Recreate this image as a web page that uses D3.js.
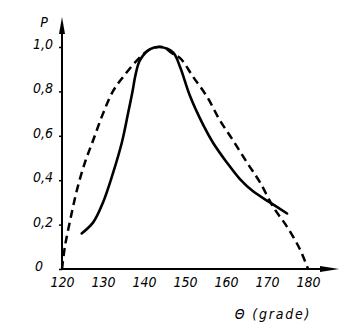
<!DOCTYPE html>
<html>
<head>
<meta charset="utf-8">
<script src="https://cdn.jsdelivr.net/npm/d3@7"></script>
<style>
  html, body { margin: 0; padding: 0; background: #fff; }
  svg { display: block; }
  text { font-family: "Liberation Sans Narrow", "DejaVu Sans Condensed", "Liberation Sans", sans-serif; font-style: italic; fill: #000; }
</style>
</head>
<body>
<svg id="chart" width="358" height="335"></svg>
<script>
// ---- data ----
const xTicks = [120, 130, 140, 150, 160, 170, 180];
const yTicks = [0, 0.2, 0.4, 0.6, 0.8, 1.0];
const yTickLabels = ["0", "0,2", "0,4", "0,6", "0,8", "1,0"];
const yAxisTitle = "P";
const xAxisTitle = "\u0398  (grade)";

const solidTheta = [124.8, 127.6, 130.0, 132.4, 134.6, 136.1, 137.1, 138.0, 139.0, 141.5, 143.9, 147.1, 148.8, 151.2, 154.4, 156.8, 160.2, 163.4, 166.6, 170.7, 174.9];
const solidP     = [0.16, 0.21, 0.30, 0.43, 0.57, 0.70, 0.79, 0.88, 0.94, 0.99, 1.00, 0.975, 0.91, 0.78, 0.65, 0.57, 0.48, 0.405, 0.35, 0.30, 0.25];

const dashedTheta = [120.0, 120.7, 122.0, 123.7, 125.6, 127.6, 130.0, 132.4, 134.9, 138.3, 141.5, 144.5, 147.0, 148.8, 152.0, 155.4, 158.5, 161.7, 165.1, 168.3, 171.5, 174.9, 178.0, 180.0];
const dashedP     = [0.0, 0.10, 0.22, 0.36, 0.48, 0.58, 0.70, 0.80, 0.865, 0.94, 0.99, 1.00, 0.97, 0.95, 0.865, 0.775, 0.67, 0.58, 0.48, 0.39, 0.28, 0.19, 0.09, 0.0];

// ---- layout ----
const svg = d3.select("#chart");
const x = d3.scaleLinear().domain([120, 180]).range([62, 308]);
const y = d3.scaleLinear().domain([0, 1]).range([269, 47]);
const x0 = x(120), y0 = y(0);

// axes lines with arrowheads
svg.append("line").attr("x1", x0).attr("y1", y0 + 1).attr("x2", x0).attr("y2", 30)
  .attr("stroke", "#000").attr("stroke-width", 2);
svg.append("path").attr("d", `M${x0},17 L${x0 - 3},34 L${x0 + 3},34 Z`).attr("fill", "#000");

svg.append("line").attr("x1", x0 - 1).attr("y1", y0).attr("x2", 325).attr("y2", y0)
  .attr("stroke", "#000").attr("stroke-width", 2);
svg.append("path").attr("d", `M339,${y0} L320,${y0 - 3} L320,${y0 + 3} Z`).attr("fill", "#000");

// y axis ticks & labels
const yAxis = d3.axisLeft(y).tickValues(yTicks).tickSize(3).tickPadding(6)
  .tickFormat((d, i) => yTickLabels[i]);
const gy = svg.append("g").attr("transform", `translate(${x0},0)`).call(yAxis);
gy.select(".domain").remove();
gy.selectAll(".tick line").attr("stroke", "#000").attr("stroke-width", 1.5);
gy.selectAll(".tick text").attr("font-size", 14).attr("font-family", null).attr("dy", "0.1em")
  .attr("dx", d => d === 0 ? -10 : 0);

// x axis labels
const xAxis = d3.axisBottom(x).tickValues(xTicks).tickSize(0).tickPadding(8).tickFormat(d3.format("d"));
const gx = svg.append("g").attr("transform", `translate(0,${y0})`).call(xAxis);
gx.select(".domain").remove();
gx.selectAll(".tick text").attr("font-size", 14).attr("font-family", null);

// axis titles
svg.append("text").attr("x", 44).attr("y", 27).attr("text-anchor", "middle")
  .attr("font-size", 14).text(yAxisTitle);
svg.append("text").attr("x", 273).attr("y", 319).attr("text-anchor", "middle")
  .attr("font-size", 14).attr("letter-spacing", 1.8).text(xAxisTitle);

// curves
const line = d3.line().x(d => x(d[0])).y(d => y(d[1])).curve(d3.curveCatmullRom.alpha(0.5));

svg.append("path")
  .attr("d", line(dashedTheta.map((t, i) => [t, dashedP[i]])))
  .attr("fill", "none").attr("stroke", "#000").attr("stroke-width", 2.5)
  .attr("stroke-dasharray", "8,5");

svg.append("path")
  .attr("d", line(solidTheta.map((t, i) => [t, solidP[i]])))
  .attr("fill", "none").attr("stroke", "#000").attr("stroke-width", 2.6)
  .attr("stroke-linecap", "round");
</script>
</body>
</html>
